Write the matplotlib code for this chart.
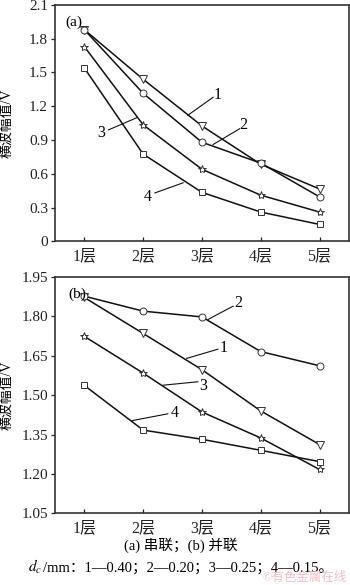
import matplotlib
matplotlib.use("Agg")
import matplotlib.pyplot as plt
from matplotlib.ticker import FixedLocator

plt.rcParams['font.family'] = ['Liberation Serif', 'Noto Sans CJK SC']
plt.rcParams['mathtext.fontset'] = 'stix'

layers = ['1层', '2层', '3层', '4层', '5层']
x = [1, 2, 3, 4, 5]

# (a) series connection
a1 = [1.88, 1.44, 1.025, 0.685, 0.465]
a2 = [1.88, 1.315, 0.88, 0.695, 0.395]
a3 = [1.73, 1.035, 0.64, 0.41, 0.26]
a4 = [1.54, 0.775, 0.435, 0.26, 0.15]

# (b) parallel connection
b1 = [1.872, 1.735, 1.597, 1.44, 1.312]
b2 = [1.877, 1.82, 1.798, 1.666, 1.612]
b3 = [1.724, 1.584, 1.436, 1.337, 1.217]
b4 = [1.537, 1.367, 1.332, 1.290, 1.247]

a_yticks = [0, 0.3, 0.6, 0.9, 1.2, 1.5, 1.8, 2.1]
a_ylabels = ['0', '0.3', '0.6', '0.9', '1.2', '1.5', '1.8', '2.1']
b_yticks = [1.05, 1.20, 1.35, 1.50, 1.65, 1.80, 1.95]
b_ylabels = ['1.05', '1.20', '1.35', '1.50', '1.65', '1.80', '1.95']

markers = ['v', 'o', '*', 's']
msizes = [5.5, 5, 6, 4.5]

fig = plt.figure(figsize=(3.5, 5.85), dpi=100)
axA = fig.add_axes([0.157, 0.5875, 0.84, 0.404])
axB = fig.add_axes([0.157, 0.1225, 0.84, 0.404])

lc = '#111111'

def style(ax, yt, yl, ylim):
    ax.set_xlim(0.5, 5.5)
    ax.set_ylim(*ylim)
    ax.xaxis.set_major_locator(FixedLocator(x))
    ax.set_xticklabels(layers)
    ax.set_yticks(yt)
    ax.set_yticklabels(yl)
    ax.tick_params(axis='x', direction='in', length=3, width=0.9, labelsize=11.5, pad=5, colors='#222222')
    ax.tick_params(axis='y', direction='out', length=3, width=0.9, labelsize=11, pad=2, colors='#222222')
    for s in ax.spines.values():
        s.set_linewidth(1.2)
        s.set_color('#333333')
    ax.set_ylabel('横波幅值/V', fontsize=10, labelpad=2)
    ax.yaxis.set_label_coords(-0.14, 0.5)

for ax, series in ((axA, (a1, a2, a3, a4)), (axB, (b1, b2, b3, b4))):
    for s, m, ms in zip(series, markers, msizes):
        ax.plot(x, s, color=lc, lw=1.1, marker=m, ms=ms, mfc='white', mec='#333333', mew=0.7)

style(axA, a_yticks, a_ylabels, (0, 2.1))
style(axB, b_yticks, b_ylabels, (1.05, 1.95))

# annotations panel (a)
kw = dict(color=lc, lw=0.8)
fs = 11.5
axA.text(0.67, 1.95, '(a)', fontsize=11, va='center', ha='left')
axA.plot([2.76, 3.19], [1.12, 1.28], **kw)
axA.text(3.27, 1.30, '1', fontsize=fs, va='center', ha='center')
axA.plot([3.19, 3.64], [0.86, 1.0], **kw)
axA.text(3.70, 1.03, '2', fontsize=fs, va='center', ha='center')
axA.plot([1.41, 1.9], [0.99, 1.10], **kw)
axA.text(1.28, 0.96, '3', fontsize=fs, va='center', ha='center')
axA.plot([2.2, 2.68], [0.43, 0.52], **kw)
axA.text(2.08, 0.39, '4', fontsize=fs, va='center', ha='center')

# annotations panel (b)
axB.text(0.72, 1.883, '(b)', fontsize=11, va='center', ha='left')
axB.plot([3.1, 3.53], [1.788, 1.839], **kw)
axB.text(3.61, 1.852, '2', fontsize=fs, va='center', ha='center')
axB.plot([2.74, 3.27], [1.64, 1.675], **kw)
axB.text(3.37, 1.678, '1', fontsize=fs, va='center', ha='center')
axB.plot([2.34, 2.93], [1.538, 1.551], **kw)
axB.text(3.02, 1.536, '3', fontsize=fs, va='center', ha='center')
axB.plot([1.81, 2.42], [1.403, 1.429], **kw)
axB.text(2.53, 1.432, '4', fontsize=fs, va='center', ha='center')

fig.text(181/350, 1 - 545/585, '(a) 串联；(b) 并联', fontsize=10.5, ha='center', va='center')

# caption line with italic d_c subscript
y_cap = 1 - 572/585
t_dc = fig.text(28/350, y_cap, '$d_c$', fontsize=11, ha='left', va='baseline')
fig.canvas.draw()
r = fig.canvas.get_renderer()
bb = t_dc.get_window_extent(r)
x_next = (bb.x1 + 1) / fig.bbox.width
fig.text(x_next, y_cap, '/mm：1—0.40；2—0.20；3—0.25；4—0.15。', fontsize=10.5,
         ha='left', va='baseline')
fig.text(305/350, 1 - 578/585, '©有色金属在线', fontsize=9, ha='center', va='center', color='#f2b8c0', alpha=0.9)

fig.savefig('out.png', dpi=100)
